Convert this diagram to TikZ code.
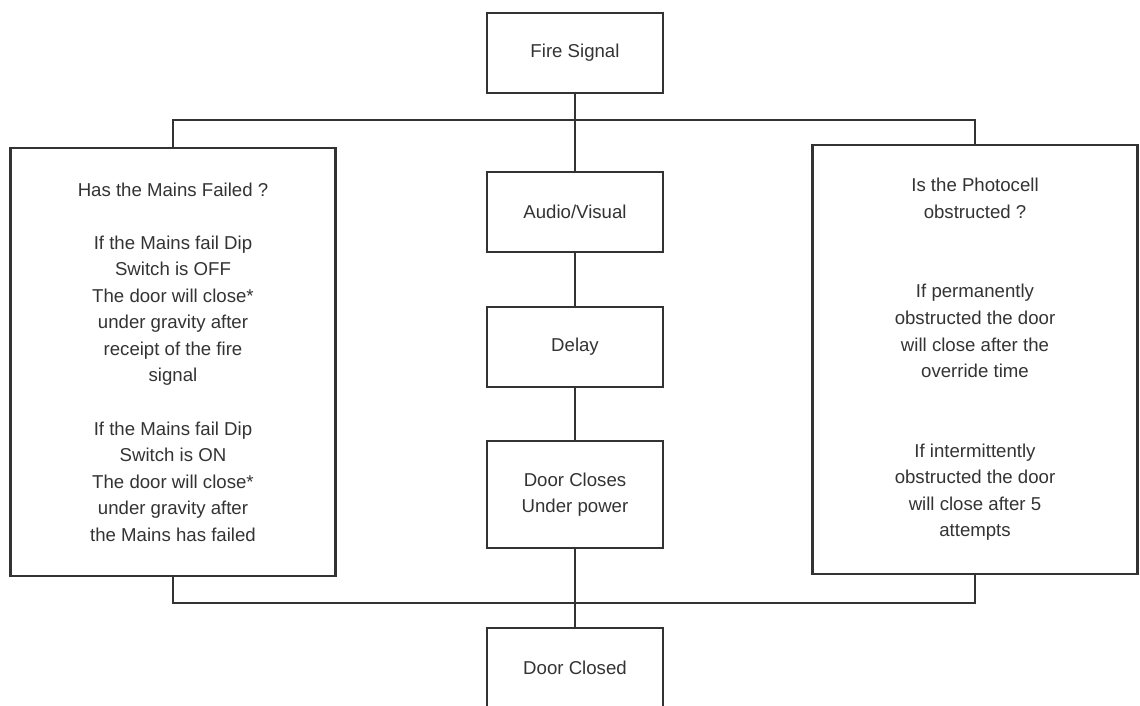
\documentclass[tikz,border=0pt]{standalone}
\usepackage{fontspec}
\setmainfont{Liberation Sans}
\usepackage{tikz}

\definecolor{inkgray}{HTML}{333333}

\begin{document}
\begin{tikzpicture}[
    every node/.style={font=\fontsize{10.6}{15.1}\selectfont, text=inkgray},
    stepbox/.style={draw=inkgray, line width=1.2pt, minimum width=3.52cm, minimum height=1.6cm, align=center},
    notebox/.style={draw=inkgray, line width=1.2pt, minimum width=6.5cm, minimum height=8.57cm, align=center},
    link/.style={draw=inkgray, line width=1.2pt}
  ]
  \useasboundingbox (0,0) rectangle (22.8,-14.1);

  \node[stepbox] (fire) at (11.5,-1.06) {Fire Signal};
  \node[stepbox] (audio) at (11.5,-4.24) {Audio/Visual};
  \node[stepbox] (delay) at (11.5,-6.94) {Delay};
  \node[stepbox, minimum height=2.14cm] (closes) at (11.5,-9.89) {Door Closes\\Under power};
  \node[stepbox] (closed) at (11.5,-13.36) {Door Closed};

  \node[notebox] (mains) at (3.46,-7.24) {Has the Mains Failed ?\\[15.1pt]
    If the Mains fail Dip\\Switch is OFF\\The door will close*\\under gravity after\\receipt of the fire\\signal\\[15.1pt]
    If the Mains fail Dip\\Switch is ON\\The door will close*\\under gravity after\\the Mains has failed};

  \node[notebox] (photo) at (19.5,-7.19) {Is the Photocell\\obstructed ?\\[30.2pt]
    If permanently\\obstructed the door\\will close after the\\override time\\[30.2pt]
    If intermittently\\obstructed the door\\will close after 5\\attempts};

  \coordinate (topbus) at (11.5,-2.4);
  \coordinate (lowbus) at (11.5,-12.06);

  \draw[link] (fire) -- (audio);
  \draw[link] (audio) -- (delay);
  \draw[link] (delay) -- (closes);
  \draw[link] (closes) -- (closed);
  \draw[link] (mains.north) |- (topbus) -| (photo.north);
  \draw[link] (mains.south) |- (lowbus) -| (photo.south);
\end{tikzpicture}
\end{document}
